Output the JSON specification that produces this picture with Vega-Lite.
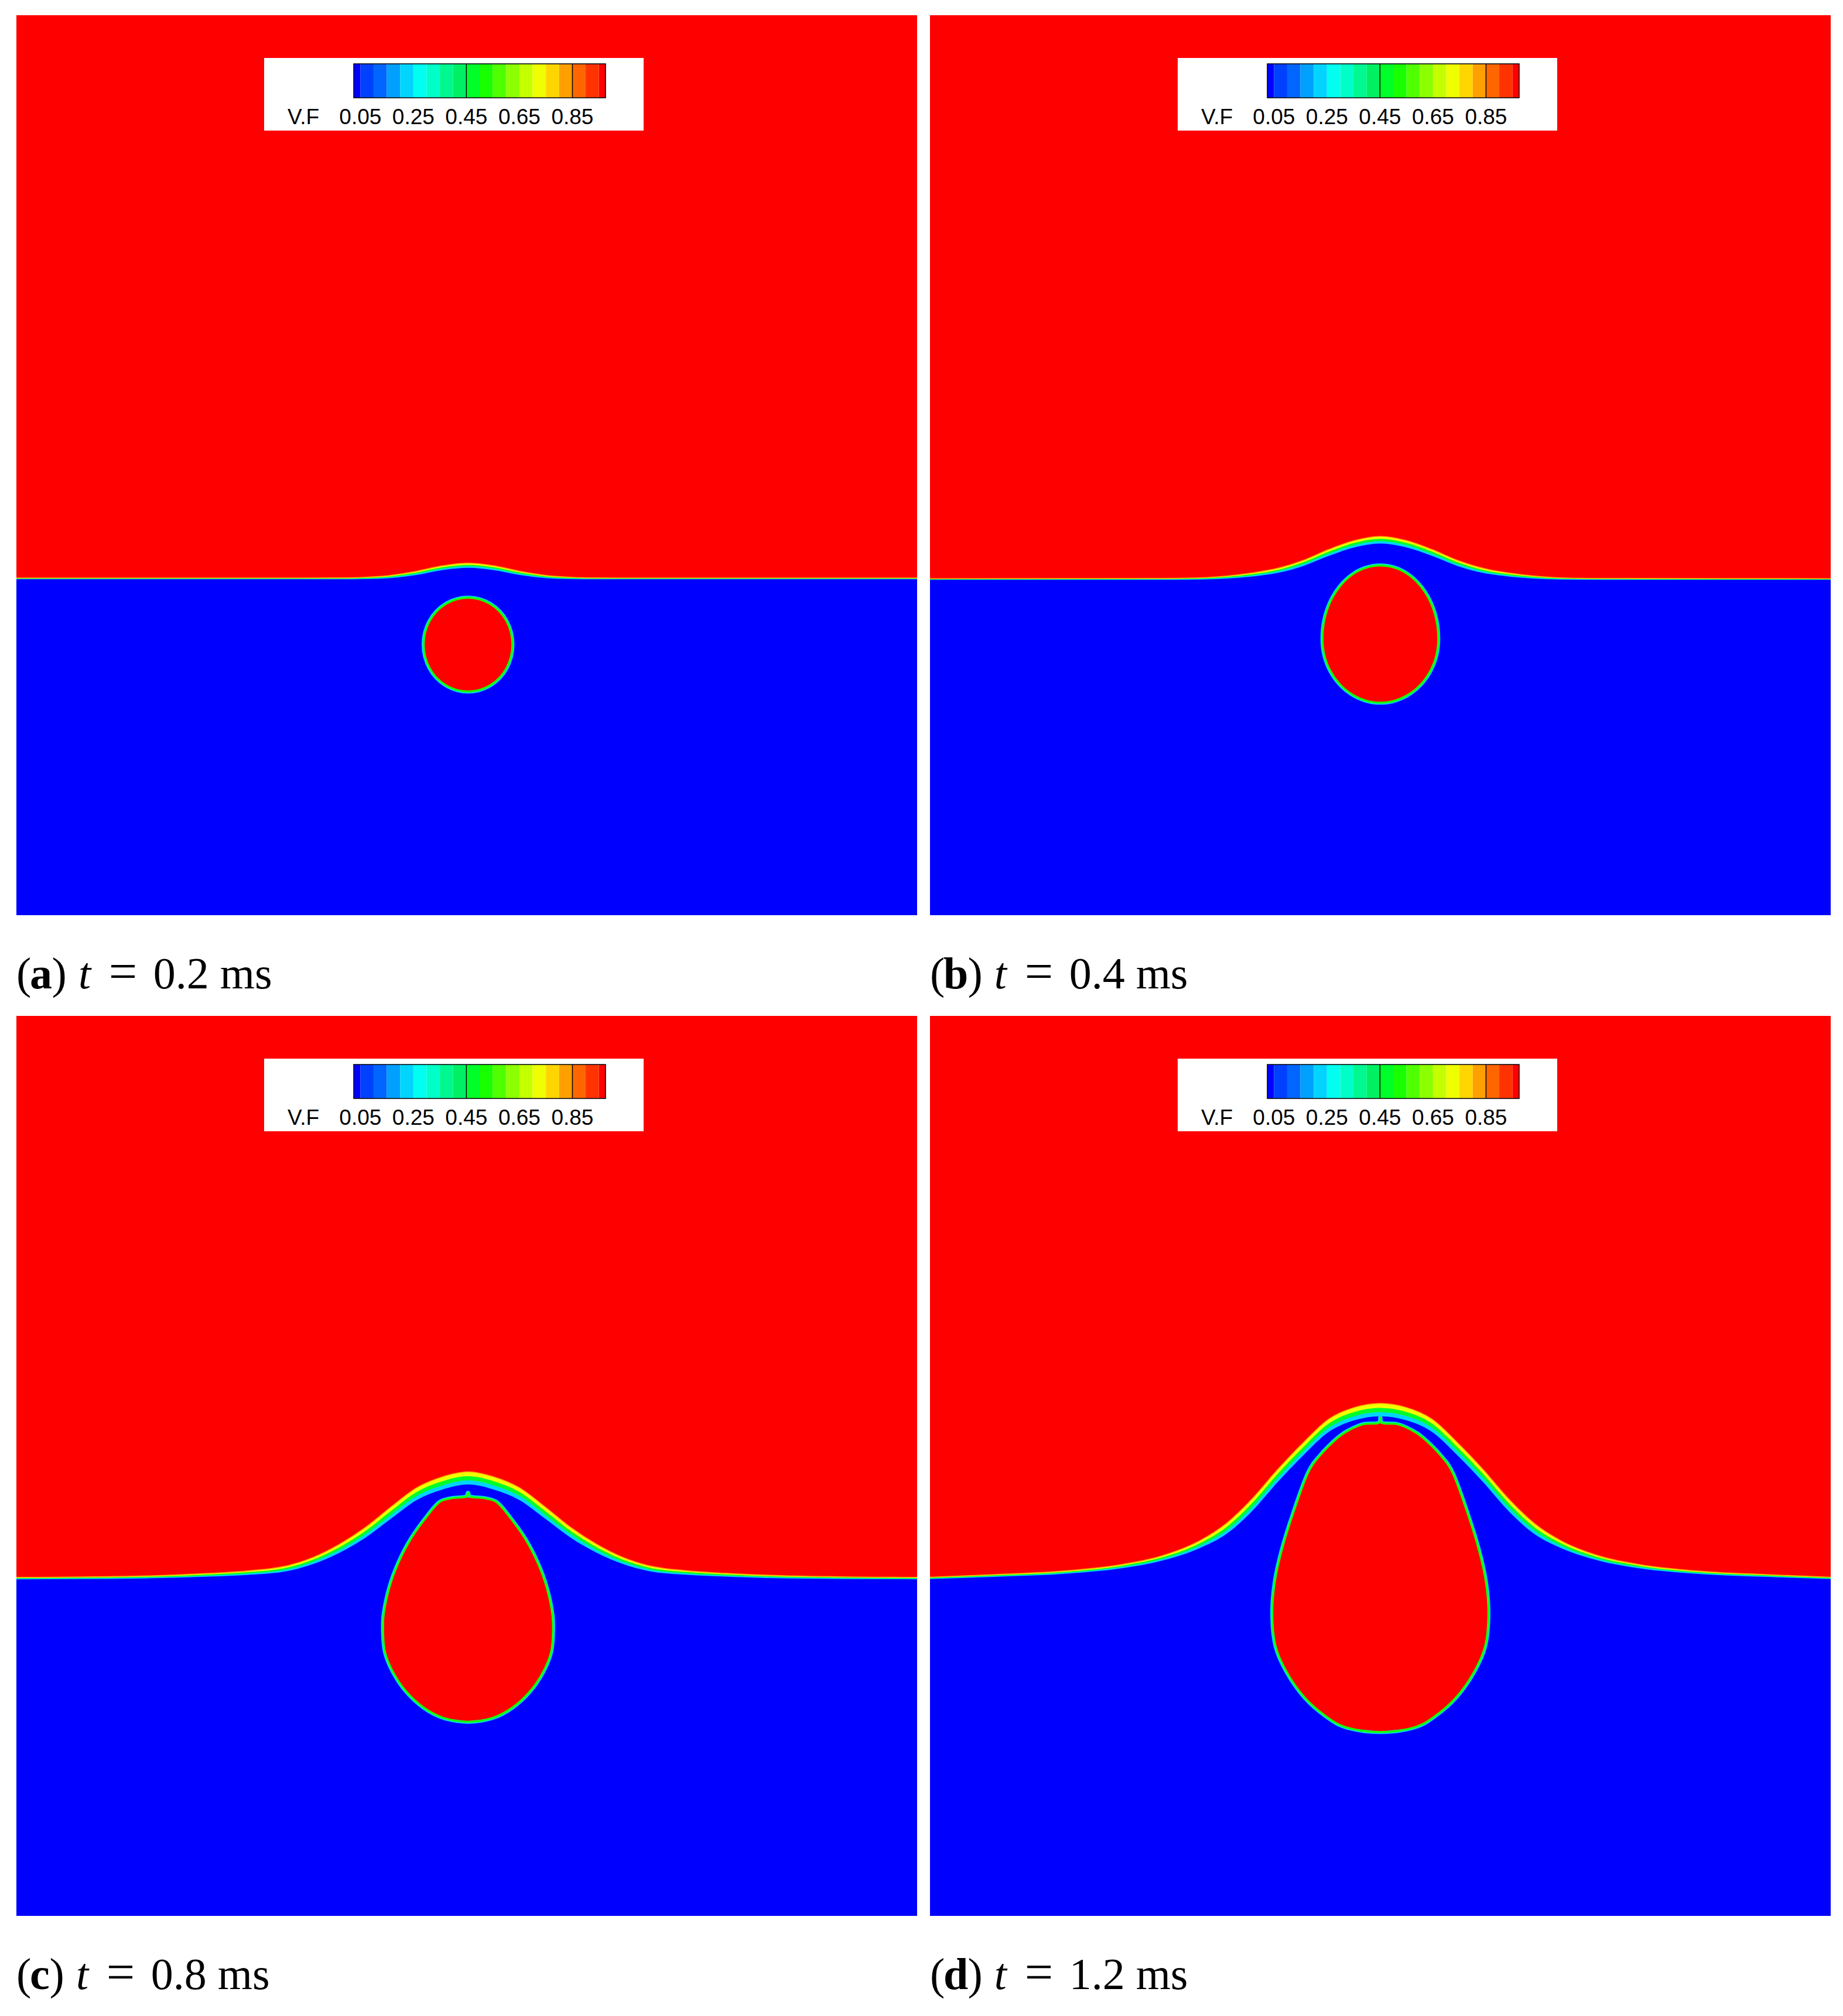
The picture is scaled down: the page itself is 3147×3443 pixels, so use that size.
{
"$schema": "https://vega.github.io/schema/vega-lite/v6.json",
"background": "#FFFFFF",
"padding": {"left": 25, "top": 26, "right": 0, "bottom": 10},
"bounds": "flush",
"columns": 2,
"spacing": {"row": 172, "column": 22},
"config": {"view": {"fill": "#FF0000", "stroke": null}},
"datasets": {
"cbar": [{"lo":0.025,"hi":0.05,"v":0.04},{"lo":0.05,"hi":0.1,"v":0.075},{"lo":0.1,"hi":0.15,"v":0.125},{"lo":0.15,"hi":0.2,"v":0.175},{"lo":0.2,"hi":0.25,"v":0.225},{"lo":0.25,"hi":0.3,"v":0.275},{"lo":0.3,"hi":0.35,"v":0.325},{"lo":0.35,"hi":0.4,"v":0.375},{"lo":0.4,"hi":0.45,"v":0.425},{"lo":0.45,"hi":0.5,"v":0.475},{"lo":0.5,"hi":0.55,"v":0.525},{"lo":0.55,"hi":0.6,"v":0.575},{"lo":0.6,"hi":0.65,"v":0.625},{"lo":0.65,"hi":0.7,"v":0.675},{"lo":0.7,"hi":0.75,"v":0.725},{"lo":0.75,"hi":0.8,"v":0.775},{"lo":0.8,"hi":0.85,"v":0.825},{"lo":0.85,"hi":0.9,"v":0.875},{"lo":0.9,"hi":0.95,"v":0.925},{"lo":0.95,"hi":0.975,"v":0.96}],
"cticks": [{"v":0.05,"label":"0.05"},{"v":0.25,"label":"0.25"},{"v":0.45,"label":"0.45"},{"v":0.65,"label":"0.65"},{"v":0.85,"label":"0.85"}],
"clines": [{"v":0.45},{"v":0.85}],
"surfA": [
{"x":0,"top":262.3,"g":262.0,"c":261.6,"bot":261.3},
{"x":221,"top":262.3,"g":262.0,"c":261.6,"bot":261.3},
{"x":251,"top":262.4,"g":262.0,"c":261.7,"bot":261.3},
{"x":271,"top":262.9,"g":262.4,"c":261.9,"bot":261.4},
{"x":291,"top":264.4,"g":263.6,"c":262.9,"bot":262.2},
{"x":311,"top":267.6,"g":266.5,"c":265.6,"bot":264.6},
{"x":331,"top":271.8,"g":270.6,"c":269.5,"bot":268.4},
{"x":351,"top":273.8,"g":272.5,"c":271.4,"bot":270.2},
{"x":371,"top":271.8,"g":270.6,"c":269.5,"bot":268.4},
{"x":391,"top":267.6,"g":266.5,"c":265.6,"bot":264.6},
{"x":411,"top":264.4,"g":263.6,"c":262.9,"bot":262.2},
{"x":431,"top":262.9,"g":262.4,"c":261.9,"bot":261.4},
{"x":451,"top":262.4,"g":262.0,"c":261.7,"bot":261.3},
{"x":481,"top":262.3,"g":262.0,"c":261.6,"bot":261.3},
{"x":700,"top":262.3,"g":262.0,"c":261.6,"bot":261.3}
],
"surfB": [
{"x":0,"top":261.8,"g":261.5,"c":261.1,"bot":260.8},
{"x":180,"top":262.0,"g":261.6,"c":261.3,"bot":260.9},
{"x":210,"top":262.5,"g":262.0,"c":261.6,"bot":261.1},
{"x":230,"top":263.8,"g":263.1,"c":262.4,"bot":261.8},
{"x":250,"top":266.2,"g":265.2,"c":264.3,"bot":263.4},
{"x":270,"top":269.8,"g":268.5,"c":267.4,"bot":266.2},
{"x":290,"top":276.0,"g":274.5,"c":273.0,"bot":271.6},
{"x":310,"top":284.5,"g":282.8,"c":281.1,"bot":279.5},
{"x":330,"top":291.5,"g":289.6,"c":287.8,"bot":286.1},
{"x":350,"top":294.7,"g":292.7,"c":290.9,"bot":289.1},
{"x":370,"top":291.5,"g":289.6,"c":287.8,"bot":286.1},
{"x":390,"top":284.5,"g":282.8,"c":281.1,"bot":279.5},
{"x":410,"top":276.0,"g":274.5,"c":273.0,"bot":271.6},
{"x":430,"top":269.8,"g":268.5,"c":267.4,"bot":266.2},
{"x":450,"top":266.2,"g":265.2,"c":264.3,"bot":263.4},
{"x":470,"top":263.8,"g":263.1,"c":262.4,"bot":261.8},
{"x":490,"top":262.5,"g":262.0,"c":261.6,"bot":261.1},
{"x":520,"top":262.0,"g":261.6,"c":261.3,"bot":260.9},
{"x":700,"top":261.8,"g":261.5,"c":261.1,"bot":260.8}
],
"surfC": [
{"x":0,"top":263.3,"g":262.8,"c":262.3,"bot":261.8},
{"x":101,"top":264.5,"g":263.8,"c":263.1,"bot":262.5},
{"x":151,"top":266.5,"g":265.6,"c":264.7,"bot":263.9},
{"x":181,"top":268.5,"g":267.4,"c":266.3,"bot":265.3},
{"x":211,"top":272.5,"g":271.0,"c":269.6,"bot":268.3},
{"x":231,"top":279.0,"g":277.2,"c":275.5,"bot":273.8},
{"x":251,"top":289.0,"g":286.7,"c":284.5,"bot":282.4},
{"x":271,"top":302.0,"g":299.2,"c":296.6,"bot":294.0},
{"x":291,"top":318.0,"g":314.8,"c":311.8,"bot":308.9},
{"x":311,"top":333.0,"g":329.6,"c":326.5,"bot":323.4},
{"x":331,"top":341.5,"g":338.0,"c":334.8,"bot":331.6},
{"x":351,"top":345.5,"g":342.0,"c":338.7,"bot":335.5},
{"x":371,"top":341.5,"g":338.0,"c":334.8,"bot":331.6},
{"x":391,"top":333.0,"g":329.6,"c":326.5,"bot":323.4},
{"x":411,"top":318.0,"g":314.8,"c":311.8,"bot":308.9},
{"x":431,"top":302.0,"g":299.2,"c":296.6,"bot":294.0},
{"x":451,"top":289.0,"g":286.7,"c":284.5,"bot":282.4},
{"x":471,"top":279.0,"g":277.2,"c":275.5,"bot":273.8},
{"x":491,"top":272.5,"g":271.0,"c":269.6,"bot":268.3},
{"x":521,"top":268.5,"g":267.4,"c":266.3,"bot":265.3},
{"x":551,"top":266.5,"g":265.6,"c":264.7,"bot":263.9},
{"x":601,"top":264.5,"g":263.8,"c":263.1,"bot":262.5},
{"x":700,"top":263.3,"g":262.8,"c":262.3,"bot":261.8}
],
"surfD": [
{"x":0,"top":263.5,"g":263.0,"c":262.5,"bot":262.0},
{"x":50,"top":265.5,"g":264.9,"c":264.3,"bot":263.7},
{"x":100,"top":268.0,"g":267.2,"c":266.5,"bot":265.8},
{"x":150,"top":273.5,"g":272.5,"c":271.5,"bot":270.5},
{"x":180,"top":280.0,"g":278.7,"c":277.4,"bot":276.2},
{"x":210,"top":292.0,"g":290.0,"c":288.1,"bot":286.2},
{"x":230,"top":305.0,"g":302.1,"c":299.4,"bot":296.8},
{"x":250,"top":324.0,"g":320.7,"c":317.5,"bot":314.5},
{"x":270,"top":347.0,"g":343.6,"c":340.3,"bot":337.2},
{"x":290,"top":368.0,"g":364.5,"c":361.3,"bot":358.1},
{"x":310,"top":386.5,"g":383.0,"c":379.7,"bot":376.5},
{"x":330,"top":395.5,"g":392.0,"c":388.7,"bot":385.5},
{"x":350,"top":398.6,"g":395.1,"c":391.8,"bot":388.6},
{"x":370,"top":395.5,"g":392.0,"c":388.7,"bot":385.5},
{"x":390,"top":386.5,"g":383.0,"c":379.7,"bot":376.5},
{"x":410,"top":368.0,"g":364.5,"c":361.3,"bot":358.1},
{"x":430,"top":347.0,"g":343.6,"c":340.3,"bot":337.2},
{"x":450,"top":324.0,"g":320.7,"c":317.5,"bot":314.5},
{"x":470,"top":305.0,"g":302.1,"c":299.4,"bot":296.8},
{"x":490,"top":292.0,"g":290.0,"c":288.1,"bot":286.2},
{"x":520,"top":280.0,"g":278.7,"c":277.4,"bot":276.2},
{"x":550,"top":273.5,"g":272.5,"c":271.5,"bot":270.5},
{"x":600,"top":268.0,"g":267.2,"c":266.5,"bot":265.8},
{"x":650,"top":265.5,"g":264.9,"c":264.3,"bot":263.7},
{"x":700,"top":263.5,"g":263.0,"c":262.5,"bot":262.0}
],
"bubA": [
{"i":0,"x":351,"y":247},{"i":1,"x":368.3,"y":242.1},{"i":2,"x":380.9,"y":228.8},{"i":3,"x":385.5,"y":210.5},{"i":4,"x":380.9,"y":192.2},{"i":5,"x":368.3,"y":178.9},{"i":6,"x":351,"y":174},{"i":7,"x":333.7,"y":178.9},{"i":8,"x":321.1,"y":192.2},{"i":9,"x":316.5,"y":210.5},{"i":10,"x":321.1,"y":228.8},{"i":11,"x":333.7,"y":242.1}
],
"bfA": [
{"y":246.5,"xl":351,"xr":351},{"y":246,"xl":343.5,"xr":358.5},{"y":244,"xl":337.8,"xr":364.2},{"y":240,"xl":331.2,"xr":370.8},{"y":234,"xl":325.1,"xr":376.9},{"y":226,"xl":320.3,"xr":381.7},{"y":218,"xl":317.7,"xr":384.3},{"y":210.5,"xl":317,"xr":385},{"y":203,"xl":317.7,"xr":384.3},{"y":195,"xl":320.3,"xr":381.7},{"y":187,"xl":325.1,"xr":376.9},{"y":181,"xl":331.2,"xr":370.8},{"y":177,"xl":337.8,"xr":364.2},{"y":175,"xl":343.5,"xr":358.5},{"y":174.5,"xl":351,"xr":351}
],
"bubB": [
{"i":0,"x":350,"y":272},{"i":1,"x":361.6,"y":270.1},{"i":2,"x":372.5,"y":264.4},{"i":3,"x":381.8,"y":255.3},{"i":4,"x":389,"y":243.5},{"i":5,"x":393.5,"y":229.8},{"i":6,"x":395,"y":215},{"i":7,"x":393.5,"y":202.1},{"i":8,"x":389,"y":190.2},{"i":9,"x":381.8,"y":179.9},{"i":10,"x":372.5,"y":172},{"i":11,"x":361.6,"y":167},{"i":12,"x":350,"y":165.3},{"i":13,"x":338.4,"y":167},{"i":14,"x":327.5,"y":172},{"i":15,"x":318.2,"y":179.9},{"i":16,"x":311,"y":190.2},{"i":17,"x":306.5,"y":202.1},{"i":18,"x":305,"y":215},{"i":19,"x":306.5,"y":229.8},{"i":20,"x":311,"y":243.5},{"i":21,"x":318.2,"y":255.3},{"i":22,"x":327.5,"y":264.4},{"i":23,"x":338.4,"y":270.1}
],
"bfB": [
{"y":271.5,"xl":350,"xr":350},{"y":270.5,"xl":340.2,"xr":359.8},{"y":268,"xl":333.9,"xr":366.1},{"y":264,"xl":327.5,"xr":372.5},{"y":256,"xl":319.2,"xr":380.8},{"y":245,"xl":312.2,"xr":387.8},{"y":230,"xl":307.1,"xr":392.9},{"y":215,"xl":305.5,"xr":394.5},{"y":202,"xl":307.1,"xr":392.9},{"y":190,"xl":311.6,"xr":388.4},{"y":180,"xl":318.6,"xr":381.4},{"y":172,"xl":327.9,"xr":372.1},{"y":168,"xl":335.9,"xr":364.1},{"y":166,"xl":343,"xr":357},{"y":165.8,"xl":350,"xr":350}
],
"bubC": [
{"i":0,"x":349,"y":325.9},{"i":1,"x":351,"y":329},{"i":2,"x":353,"y":325.9},{"i":3,"x":363,"y":325},{"i":4,"x":373,"y":322},{"i":5,"x":382,"y":312},{"i":6,"x":395,"y":294},{"i":7,"x":405,"y":275},{"i":8,"x":412,"y":256},{"i":9,"x":416.5,"y":235},{"i":10,"x":417,"y":220},{"i":11,"x":415.5,"y":205},{"i":12,"x":409.5,"y":190},{"i":13,"x":399.5,"y":175},{"i":14,"x":385.5,"y":162},{"i":15,"x":370,"y":154},{"i":16,"x":351,"y":151},{"i":17,"x":332,"y":154},{"i":18,"x":316.5,"y":162},{"i":19,"x":302.5,"y":175},{"i":20,"x":292.5,"y":190},{"i":21,"x":286.5,"y":205},{"i":22,"x":285,"y":220},{"i":23,"x":285.5,"y":235},{"i":24,"x":290,"y":256},{"i":25,"x":297,"y":275},{"i":26,"x":307,"y":294},{"i":27,"x":320,"y":312},{"i":28,"x":329,"y":322},{"i":29,"x":339,"y":325}
],
"bfC": [
{"y":325.3,"xl":351,"xr":351},{"y":325,"xl":339.5,"xr":362.5},{"y":322,"xl":329.5,"xr":372.5},{"y":318,"xl":325,"xr":377},{"y":312,"xl":320.5,"xr":381.5},{"y":303,"xl":313.5,"xr":388.5},{"y":294,"xl":307.5,"xr":394.5},{"y":275,"xl":297.5,"xr":404.5},{"y":256,"xl":290.5,"xr":411.5},{"y":235,"xl":286,"xr":416},{"y":220,"xl":285.5,"xr":416.5},{"y":205,"xl":287,"xr":415},{"y":190,"xl":293,"xr":409},{"y":175,"xl":303,"xr":399},{"y":162,"xl":317,"xr":385},{"y":154,"xl":332.5,"xr":369.5},{"y":151.5,"xl":351,"xr":351}
],
"bubD": [
{"i":0,"x":348.5,"y":383.3},{"i":1,"x":350,"y":387.5},{"i":2,"x":351.5,"y":383.3},{"i":3,"x":363,"y":382.5},{"i":4,"x":374,"y":378},{"i":5,"x":383,"y":372},{"i":6,"x":397,"y":358},{"i":7,"x":406.5,"y":344},{"i":8,"x":417.5,"y":314},{"i":9,"x":426.5,"y":285},{"i":10,"x":432,"y":260},{"i":11,"x":434,"y":235},{"i":12,"x":431.5,"y":210},{"i":13,"x":423,"y":190},{"i":14,"x":409,"y":170},{"i":15,"x":392,"y":155},{"i":16,"x":376,"y":146.5},{"i":17,"x":350,"y":143},{"i":18,"x":324,"y":146.5},{"i":19,"x":308,"y":155},{"i":20,"x":291,"y":170},{"i":21,"x":277,"y":190},{"i":22,"x":268.5,"y":210},{"i":23,"x":266,"y":235},{"i":24,"x":268,"y":260},{"i":25,"x":273.5,"y":285},{"i":26,"x":282.5,"y":314},{"i":27,"x":293.5,"y":344},{"i":28,"x":303,"y":358},{"i":29,"x":317,"y":372},{"i":30,"x":326,"y":378},{"i":31,"x":337,"y":382.5}
],
"bfD": [
{"y":383,"xl":350,"xr":350},{"y":382.5,"xl":337.5,"xr":362.5},{"y":378,"xl":326.5,"xr":373.5},{"y":372,"xl":317.5,"xr":382.5},{"y":358,"xl":303.5,"xr":396.5},{"y":344,"xl":294,"xr":406},{"y":329,"xl":288,"xr":412},{"y":314,"xl":283,"xr":417},{"y":285,"xl":274,"xr":426},{"y":260,"xl":268.5,"xr":431.5},{"y":235,"xl":266.5,"xr":433.5},{"y":210,"xl":269,"xr":431},{"y":190,"xl":277.5,"xr":422.5},{"y":170,"xl":291.5,"xr":408.5},{"y":155,"xl":308.5,"xr":391.5},{"y":146.5,"xl":324.5,"xr":375.5},{"y":143.5,"xl":350,"xr":350}
]
},
"concat": [
{"width":1538,"height":1537,"resolve":{"scale":{"x":"independent","y":"independent"}},"layer":[
{"data":{"name":"surfA"},"mark":{"type":"area","interpolate":"monotone"},"encoding":{"x":{"field":"x","type":"quantitative","scale":{"domain":[0,700],"nice":false,"zero":false},"axis":null},"y":{"field":"top","type":"quantitative","scale":{"domain":[0,700],"nice":false,"zero":false},"axis":null},"y2":{"datum":0},"color":{"datum":0.72,"type":"quantitative","legend":null,"scale":{"type":"threshold","domain":[0.05,0.1,0.15,0.2,0.25,0.3,0.35,0.4,0.45,0.5,0.55,0.6,0.65,0.7,0.75,0.8,0.85,0.9,0.95],"range":["#0000FF","#0040FF","#0066FF","#00A0FF","#00D4FF","#00FFF0","#00FFC8","#00F890","#00F064","#00FF28","#18FF00","#50FF00","#8CFF00","#C4FF00","#F0FF00","#FFD500","#FFA000","#FF6600","#FF3300","#FF0000"]}}}},
{"data":{"name":"surfA"},"mark":{"type":"area","interpolate":"monotone"},"encoding":{"x":{"field":"x","type":"quantitative","scale":{"domain":[0,700],"nice":false,"zero":false},"axis":null},"y":{"field":"g","type":"quantitative","scale":{"domain":[0,700],"nice":false,"zero":false},"axis":null},"y2":{"datum":0},"color":{"datum":0.47,"type":"quantitative","legend":null,"scale":{"type":"threshold","domain":[0.05,0.1,0.15,0.2,0.25,0.3,0.35,0.4,0.45,0.5,0.55,0.6,0.65,0.7,0.75,0.8,0.85,0.9,0.95],"range":["#0000FF","#0040FF","#0066FF","#00A0FF","#00D4FF","#00FFF0","#00FFC8","#00F890","#00F064","#00FF28","#18FF00","#50FF00","#8CFF00","#C4FF00","#F0FF00","#FFD500","#FFA000","#FF6600","#FF3300","#FF0000"]}}}},
{"data":{"name":"surfA"},"mark":{"type":"area","interpolate":"monotone"},"encoding":{"x":{"field":"x","type":"quantitative","scale":{"domain":[0,700],"nice":false,"zero":false},"axis":null},"y":{"field":"c","type":"quantitative","scale":{"domain":[0,700],"nice":false,"zero":false},"axis":null},"y2":{"datum":0},"color":{"datum":0.22,"type":"quantitative","legend":null,"scale":{"type":"threshold","domain":[0.05,0.1,0.15,0.2,0.25,0.3,0.35,0.4,0.45,0.5,0.55,0.6,0.65,0.7,0.75,0.8,0.85,0.9,0.95],"range":["#0000FF","#0040FF","#0066FF","#00A0FF","#00D4FF","#00FFF0","#00FFC8","#00F890","#00F064","#00FF28","#18FF00","#50FF00","#8CFF00","#C4FF00","#F0FF00","#FFD500","#FFA000","#FF6600","#FF3300","#FF0000"]}}}},
{"data":{"name":"surfA"},"mark":{"type":"area","interpolate":"monotone"},"encoding":{"x":{"field":"x","type":"quantitative","scale":{"domain":[0,700],"nice":false,"zero":false},"axis":null},"y":{"field":"bot","type":"quantitative","scale":{"domain":[0,700],"nice":false,"zero":false},"axis":null},"y2":{"datum":0},"color":{"datum":0,"type":"quantitative","legend":null,"scale":{"type":"threshold","domain":[0.05,0.1,0.15,0.2,0.25,0.3,0.35,0.4,0.45,0.5,0.55,0.6,0.65,0.7,0.75,0.8,0.85,0.9,0.95],"range":["#0000FF","#0040FF","#0066FF","#00A0FF","#00D4FF","#00FFF0","#00FFC8","#00F890","#00F064","#00FF28","#18FF00","#50FF00","#8CFF00","#C4FF00","#F0FF00","#FFD500","#FFA000","#FF6600","#FF3300","#FF0000"]}}}},
{"data":{"name":"surfA"},"mark":{"type":"line","interpolate":"monotone","strokeWidth":1.5},"encoding":{"x":{"field":"x","type":"quantitative","scale":{"domain":[0,700],"nice":false,"zero":false},"axis":null},"y":{"field":"top","type":"quantitative","scale":{"domain":[0,700],"nice":false,"zero":false},"axis":null},"color":{"datum":0.82,"type":"quantitative","legend":null,"scale":{"type":"threshold","domain":[0.05,0.1,0.15,0.2,0.25,0.3,0.35,0.4,0.45,0.5,0.55,0.6,0.65,0.7,0.75,0.8,0.85,0.9,0.95],"range":["#0000FF","#0040FF","#0066FF","#00A0FF","#00D4FF","#00FFF0","#00FFC8","#00F890","#00F064","#00FF28","#18FF00","#50FF00","#8CFF00","#C4FF00","#F0FF00","#FFD500","#FFA000","#FF6600","#FF3300","#FF0000"]}}}},
{"data":{"name":"bubA"},"mark":{"type":"line","interpolate":"cardinal-closed","strokeWidth":7},"encoding":{"x":{"field":"x","type":"quantitative","scale":{"domain":[0,700],"nice":false,"zero":false},"axis":null},"y":{"field":"y","type":"quantitative","scale":{"domain":[0,700],"nice":false,"zero":false},"axis":null},"order":{"field":"i"},"color":{"datum":0.22,"type":"quantitative","legend":null,"scale":{"type":"threshold","domain":[0.05,0.1,0.15,0.2,0.25,0.3,0.35,0.4,0.45,0.5,0.55,0.6,0.65,0.7,0.75,0.8,0.85,0.9,0.95],"range":["#0000FF","#0040FF","#0066FF","#00A0FF","#00D4FF","#00FFF0","#00FFC8","#00F890","#00F064","#00FF28","#18FF00","#50FF00","#8CFF00","#C4FF00","#F0FF00","#FFD500","#FFA000","#FF6600","#FF3300","#FF0000"]}}}},
{"data":{"name":"bfA"},"mark":{"type":"area","orient":"horizontal","interpolate":"monotone"},"encoding":{"y":{"field":"y","type":"quantitative","scale":{"domain":[0,700],"nice":false,"zero":false},"axis":null},"x":{"field":"xl","type":"quantitative","scale":{"domain":[0,700],"nice":false,"zero":false},"axis":null},"x2":{"field":"xr"},"color":{"datum":1,"type":"quantitative","legend":null,"scale":{"type":"threshold","domain":[0.05,0.1,0.15,0.2,0.25,0.3,0.35,0.4,0.45,0.5,0.55,0.6,0.65,0.7,0.75,0.8,0.85,0.9,0.95],"range":["#0000FF","#0040FF","#0066FF","#00A0FF","#00D4FF","#00FFF0","#00FFC8","#00F890","#00F064","#00FF28","#18FF00","#50FF00","#8CFF00","#C4FF00","#F0FF00","#FFD500","#FFA000","#FF6600","#FF3300","#FF0000"]}}}},
{"data":{"name":"bubA"},"mark":{"type":"line","interpolate":"cardinal-closed","strokeWidth":3.5},"encoding":{"x":{"field":"x","type":"quantitative","scale":{"domain":[0,700],"nice":false,"zero":false},"axis":null},"y":{"field":"y","type":"quantitative","scale":{"domain":[0,700],"nice":false,"zero":false},"axis":null},"order":{"field":"i"},"color":{"datum":0.52,"type":"quantitative","legend":null,"scale":{"type":"threshold","domain":[0.05,0.1,0.15,0.2,0.25,0.3,0.35,0.4,0.45,0.5,0.55,0.6,0.65,0.7,0.75,0.8,0.85,0.9,0.95],"range":["#0000FF","#0040FF","#0066FF","#00A0FF","#00D4FF","#00FFF0","#00FFC8","#00F890","#00F064","#00FF28","#18FF00","#50FF00","#8CFF00","#C4FF00","#F0FF00","#FFD500","#FFA000","#FF6600","#FF3300","#FF0000"]}}}},
{"data":{"values":[{}]},"mark":{"type":"rect","fill":"#FFFFFF"},"encoding":{"x":{"datum":-0.31303,"type":"quantitative","scale":{"domain":[-1.24757,2.15035],"nice":false,"zero":false},"axis":null},"x2":{"datum":1.1186},"y":{"datum":1.1724,"type":"quantitative","scale":{"domain":[-24.069,2.431],"nice":false,"zero":false},"axis":null},"y2":{"datum":-0.9656}}},
{"data":{"name":"cbar"},"mark":{"type":"rect"},"encoding":{"x":{"field":"lo","type":"quantitative","scale":{"domain":[-1.24757,2.15035],"nice":false,"zero":false},"axis":null},"x2":{"field":"hi"},"y":{"datum":0,"type":"quantitative","scale":{"domain":[-24.069,2.431],"nice":false,"zero":false},"axis":null},"y2":{"datum":1},"color":{"field":"v","type":"quantitative","legend":null,"scale":{"type":"threshold","domain":[0.05,0.1,0.15,0.2,0.25,0.3,0.35,0.4,0.45,0.5,0.55,0.6,0.65,0.7,0.75,0.8,0.85,0.9,0.95],"range":["#0000FF","#0040FF","#0066FF","#00A0FF","#00D4FF","#00FFF0","#00FFC8","#00F890","#00F064","#00FF28","#18FF00","#50FF00","#8CFF00","#C4FF00","#F0FF00","#FFD500","#FFA000","#FF6600","#FF3300","#FF0000"]}}}},
{"data":{"name":"clines"},"mark":{"type":"rule","stroke":"#000000","strokeWidth":1.5},"encoding":{"x":{"field":"v","type":"quantitative","scale":{"domain":[-1.24757,2.15035],"nice":false,"zero":false},"axis":null},"y":{"datum":0,"type":"quantitative","scale":{"domain":[-24.069,2.431],"nice":false,"zero":false},"axis":null},"y2":{"datum":1}}},
{"data":{"values":[{}]},"mark":{"type":"rect","filled":false,"stroke":"#000000","strokeWidth":1.5},"encoding":{"x":{"datum":0.025,"type":"quantitative","scale":{"domain":[-1.24757,2.15035],"nice":false,"zero":false},"axis":null},"x2":{"datum":0.975},"y":{"datum":0,"type":"quantitative","scale":{"domain":[-24.069,2.431],"nice":false,"zero":false},"axis":null},"y2":{"datum":1}}},
{"data":{"name":"cticks"},"mark":{"type":"text","font":"Liberation Sans","fontSize":37,"align":"center","baseline":"alphabetic","fill":"#000000"},"encoding":{"x":{"field":"v","type":"quantitative","scale":{"domain":[-1.24757,2.15035],"nice":false,"zero":false},"axis":null},"y":{"datum":-0.776,"type":"quantitative","scale":{"domain":[-24.069,2.431],"nice":false,"zero":false},"axis":null},"text":{"field":"label"}}},
{"data":{"values":[{}]},"mark":{"type":"text","text":"V.F","font":"Liberation Sans","fontSize":37,"align":"left","baseline":"alphabetic","fill":"#000000"},"encoding":{"x":{"datum":-0.22466,"type":"quantitative","scale":{"domain":[-1.24757,2.15035],"nice":false,"zero":false},"axis":null},"y":{"datum":-0.776,"type":"quantitative","scale":{"domain":[-24.069,2.431],"nice":false,"zero":false},"axis":null}}},
{"data":{"values":[{}]},"mark":{"type":"text","text":"(","font":"Liberation Serif","fontSize":76,"align":"left","baseline":"alphabetic","fill":"#000000"},"encoding":{"x":{"datum":0,"type":"quantitative","scale":{"domain":[0,700],"nice":false,"zero":false},"axis":null},"y":{"datum":-57,"type":"quantitative","scale":{"domain":[0,700],"nice":false,"zero":false},"axis":null}}},
{"data":{"values":[{}]},"mark":{"type":"text","text":"a","font":"Liberation Serif","fontWeight":"bold","fontSize":76,"align":"left","baseline":"alphabetic","fill":"#000000"},"encoding":{"x":{"datum":10.5,"type":"quantitative","scale":{"domain":[0,700],"nice":false,"zero":false},"axis":null},"y":{"datum":-57,"type":"quantitative","scale":{"domain":[0,700],"nice":false,"zero":false},"axis":null}}},
{"data":{"values":[{}]},"mark":{"type":"text","text":")","font":"Liberation Serif","fontSize":76,"align":"left","baseline":"alphabetic","fill":"#000000"},"encoding":{"x":{"datum":27.5,"type":"quantitative","scale":{"domain":[0,700],"nice":false,"zero":false},"axis":null},"y":{"datum":-57,"type":"quantitative","scale":{"domain":[0,700],"nice":false,"zero":false},"axis":null}}},
{"data":{"values":[{}]},"mark":{"type":"text","text":"t","font":"Liberation Serif","fontStyle":"italic","fontSize":76,"align":"left","baseline":"alphabetic","fill":"#000000"},"encoding":{"x":{"datum":48.2,"type":"quantitative","scale":{"domain":[0,700],"nice":false,"zero":false},"axis":null},"y":{"datum":-57,"type":"quantitative","scale":{"domain":[0,700],"nice":false,"zero":false},"axis":null}}},
{"data":{"values":[{}]},"mark":{"type":"text","text":"=","font":"Liberation Serif","fontSize":86,"align":"center","baseline":"alphabetic","fill":"#000000"},"encoding":{"x":{"datum":82.8,"type":"quantitative","scale":{"domain":[0,700],"nice":false,"zero":false},"axis":null},"y":{"datum":-57,"type":"quantitative","scale":{"domain":[0,700],"nice":false,"zero":false},"axis":null}}},
{"data":{"values":[{}]},"mark":{"type":"text","text":"0.2 ms","font":"Liberation Serif","fontSize":76,"align":"left","baseline":"alphabetic","fill":"#000000"},"encoding":{"x":{"datum":106.4,"type":"quantitative","scale":{"domain":[0,700],"nice":false,"zero":false},"axis":null},"y":{"datum":-57,"type":"quantitative","scale":{"domain":[0,700],"nice":false,"zero":false},"axis":null}}}
]},
{"width":1538,"height":1537,"resolve":{"scale":{"x":"independent","y":"independent"}},"layer":[
{"data":{"name":"surfB"},"mark":{"type":"area","interpolate":"monotone"},"encoding":{"x":{"field":"x","type":"quantitative","scale":{"domain":[0,700],"nice":false,"zero":false},"axis":null},"y":{"field":"top","type":"quantitative","scale":{"domain":[0,700],"nice":false,"zero":false},"axis":null},"y2":{"datum":0},"color":{"datum":0.72,"type":"quantitative","legend":null,"scale":{"type":"threshold","domain":[0.05,0.1,0.15,0.2,0.25,0.3,0.35,0.4,0.45,0.5,0.55,0.6,0.65,0.7,0.75,0.8,0.85,0.9,0.95],"range":["#0000FF","#0040FF","#0066FF","#00A0FF","#00D4FF","#00FFF0","#00FFC8","#00F890","#00F064","#00FF28","#18FF00","#50FF00","#8CFF00","#C4FF00","#F0FF00","#FFD500","#FFA000","#FF6600","#FF3300","#FF0000"]}}}},
{"data":{"name":"surfB"},"mark":{"type":"area","interpolate":"monotone"},"encoding":{"x":{"field":"x","type":"quantitative","scale":{"domain":[0,700],"nice":false,"zero":false},"axis":null},"y":{"field":"g","type":"quantitative","scale":{"domain":[0,700],"nice":false,"zero":false},"axis":null},"y2":{"datum":0},"color":{"datum":0.47,"type":"quantitative","legend":null,"scale":{"type":"threshold","domain":[0.05,0.1,0.15,0.2,0.25,0.3,0.35,0.4,0.45,0.5,0.55,0.6,0.65,0.7,0.75,0.8,0.85,0.9,0.95],"range":["#0000FF","#0040FF","#0066FF","#00A0FF","#00D4FF","#00FFF0","#00FFC8","#00F890","#00F064","#00FF28","#18FF00","#50FF00","#8CFF00","#C4FF00","#F0FF00","#FFD500","#FFA000","#FF6600","#FF3300","#FF0000"]}}}},
{"data":{"name":"surfB"},"mark":{"type":"area","interpolate":"monotone"},"encoding":{"x":{"field":"x","type":"quantitative","scale":{"domain":[0,700],"nice":false,"zero":false},"axis":null},"y":{"field":"c","type":"quantitative","scale":{"domain":[0,700],"nice":false,"zero":false},"axis":null},"y2":{"datum":0},"color":{"datum":0.22,"type":"quantitative","legend":null,"scale":{"type":"threshold","domain":[0.05,0.1,0.15,0.2,0.25,0.3,0.35,0.4,0.45,0.5,0.55,0.6,0.65,0.7,0.75,0.8,0.85,0.9,0.95],"range":["#0000FF","#0040FF","#0066FF","#00A0FF","#00D4FF","#00FFF0","#00FFC8","#00F890","#00F064","#00FF28","#18FF00","#50FF00","#8CFF00","#C4FF00","#F0FF00","#FFD500","#FFA000","#FF6600","#FF3300","#FF0000"]}}}},
{"data":{"name":"surfB"},"mark":{"type":"area","interpolate":"monotone"},"encoding":{"x":{"field":"x","type":"quantitative","scale":{"domain":[0,700],"nice":false,"zero":false},"axis":null},"y":{"field":"bot","type":"quantitative","scale":{"domain":[0,700],"nice":false,"zero":false},"axis":null},"y2":{"datum":0},"color":{"datum":0,"type":"quantitative","legend":null,"scale":{"type":"threshold","domain":[0.05,0.1,0.15,0.2,0.25,0.3,0.35,0.4,0.45,0.5,0.55,0.6,0.65,0.7,0.75,0.8,0.85,0.9,0.95],"range":["#0000FF","#0040FF","#0066FF","#00A0FF","#00D4FF","#00FFF0","#00FFC8","#00F890","#00F064","#00FF28","#18FF00","#50FF00","#8CFF00","#C4FF00","#F0FF00","#FFD500","#FFA000","#FF6600","#FF3300","#FF0000"]}}}},
{"data":{"name":"surfB"},"mark":{"type":"line","interpolate":"monotone","strokeWidth":1.5},"encoding":{"x":{"field":"x","type":"quantitative","scale":{"domain":[0,700],"nice":false,"zero":false},"axis":null},"y":{"field":"top","type":"quantitative","scale":{"domain":[0,700],"nice":false,"zero":false},"axis":null},"color":{"datum":0.82,"type":"quantitative","legend":null,"scale":{"type":"threshold","domain":[0.05,0.1,0.15,0.2,0.25,0.3,0.35,0.4,0.45,0.5,0.55,0.6,0.65,0.7,0.75,0.8,0.85,0.9,0.95],"range":["#0000FF","#0040FF","#0066FF","#00A0FF","#00D4FF","#00FFF0","#00FFC8","#00F890","#00F064","#00FF28","#18FF00","#50FF00","#8CFF00","#C4FF00","#F0FF00","#FFD500","#FFA000","#FF6600","#FF3300","#FF0000"]}}}},
{"data":{"name":"bubB"},"mark":{"type":"line","interpolate":"cardinal-closed","strokeWidth":7},"encoding":{"x":{"field":"x","type":"quantitative","scale":{"domain":[0,700],"nice":false,"zero":false},"axis":null},"y":{"field":"y","type":"quantitative","scale":{"domain":[0,700],"nice":false,"zero":false},"axis":null},"order":{"field":"i"},"color":{"datum":0.22,"type":"quantitative","legend":null,"scale":{"type":"threshold","domain":[0.05,0.1,0.15,0.2,0.25,0.3,0.35,0.4,0.45,0.5,0.55,0.6,0.65,0.7,0.75,0.8,0.85,0.9,0.95],"range":["#0000FF","#0040FF","#0066FF","#00A0FF","#00D4FF","#00FFF0","#00FFC8","#00F890","#00F064","#00FF28","#18FF00","#50FF00","#8CFF00","#C4FF00","#F0FF00","#FFD500","#FFA000","#FF6600","#FF3300","#FF0000"]}}}},
{"data":{"name":"bfB"},"mark":{"type":"area","orient":"horizontal","interpolate":"monotone"},"encoding":{"y":{"field":"y","type":"quantitative","scale":{"domain":[0,700],"nice":false,"zero":false},"axis":null},"x":{"field":"xl","type":"quantitative","scale":{"domain":[0,700],"nice":false,"zero":false},"axis":null},"x2":{"field":"xr"},"color":{"datum":1,"type":"quantitative","legend":null,"scale":{"type":"threshold","domain":[0.05,0.1,0.15,0.2,0.25,0.3,0.35,0.4,0.45,0.5,0.55,0.6,0.65,0.7,0.75,0.8,0.85,0.9,0.95],"range":["#0000FF","#0040FF","#0066FF","#00A0FF","#00D4FF","#00FFF0","#00FFC8","#00F890","#00F064","#00FF28","#18FF00","#50FF00","#8CFF00","#C4FF00","#F0FF00","#FFD500","#FFA000","#FF6600","#FF3300","#FF0000"]}}}},
{"data":{"name":"bubB"},"mark":{"type":"line","interpolate":"cardinal-closed","strokeWidth":3.5},"encoding":{"x":{"field":"x","type":"quantitative","scale":{"domain":[0,700],"nice":false,"zero":false},"axis":null},"y":{"field":"y","type":"quantitative","scale":{"domain":[0,700],"nice":false,"zero":false},"axis":null},"order":{"field":"i"},"color":{"datum":0.52,"type":"quantitative","legend":null,"scale":{"type":"threshold","domain":[0.05,0.1,0.15,0.2,0.25,0.3,0.35,0.4,0.45,0.5,0.55,0.6,0.65,0.7,0.75,0.8,0.85,0.9,0.95],"range":["#0000FF","#0040FF","#0066FF","#00A0FF","#00D4FF","#00FFF0","#00FFC8","#00F890","#00F064","#00FF28","#18FF00","#50FF00","#8CFF00","#C4FF00","#F0FF00","#FFD500","#FFA000","#FF6600","#FF3300","#FF0000"]}}}},
{"data":{"values":[{}]},"mark":{"type":"rect","fill":"#FFFFFF"},"encoding":{"x":{"datum":-0.31303,"type":"quantitative","scale":{"domain":[-1.24757,2.15035],"nice":false,"zero":false},"axis":null},"x2":{"datum":1.1186},"y":{"datum":1.1724,"type":"quantitative","scale":{"domain":[-24.069,2.431],"nice":false,"zero":false},"axis":null},"y2":{"datum":-0.9656}}},
{"data":{"name":"cbar"},"mark":{"type":"rect"},"encoding":{"x":{"field":"lo","type":"quantitative","scale":{"domain":[-1.24757,2.15035],"nice":false,"zero":false},"axis":null},"x2":{"field":"hi"},"y":{"datum":0,"type":"quantitative","scale":{"domain":[-24.069,2.431],"nice":false,"zero":false},"axis":null},"y2":{"datum":1},"color":{"field":"v","type":"quantitative","legend":null,"scale":{"type":"threshold","domain":[0.05,0.1,0.15,0.2,0.25,0.3,0.35,0.4,0.45,0.5,0.55,0.6,0.65,0.7,0.75,0.8,0.85,0.9,0.95],"range":["#0000FF","#0040FF","#0066FF","#00A0FF","#00D4FF","#00FFF0","#00FFC8","#00F890","#00F064","#00FF28","#18FF00","#50FF00","#8CFF00","#C4FF00","#F0FF00","#FFD500","#FFA000","#FF6600","#FF3300","#FF0000"]}}}},
{"data":{"name":"clines"},"mark":{"type":"rule","stroke":"#000000","strokeWidth":1.5},"encoding":{"x":{"field":"v","type":"quantitative","scale":{"domain":[-1.24757,2.15035],"nice":false,"zero":false},"axis":null},"y":{"datum":0,"type":"quantitative","scale":{"domain":[-24.069,2.431],"nice":false,"zero":false},"axis":null},"y2":{"datum":1}}},
{"data":{"values":[{}]},"mark":{"type":"rect","filled":false,"stroke":"#000000","strokeWidth":1.5},"encoding":{"x":{"datum":0.025,"type":"quantitative","scale":{"domain":[-1.24757,2.15035],"nice":false,"zero":false},"axis":null},"x2":{"datum":0.975},"y":{"datum":0,"type":"quantitative","scale":{"domain":[-24.069,2.431],"nice":false,"zero":false},"axis":null},"y2":{"datum":1}}},
{"data":{"name":"cticks"},"mark":{"type":"text","font":"Liberation Sans","fontSize":37,"align":"center","baseline":"alphabetic","fill":"#000000"},"encoding":{"x":{"field":"v","type":"quantitative","scale":{"domain":[-1.24757,2.15035],"nice":false,"zero":false},"axis":null},"y":{"datum":-0.776,"type":"quantitative","scale":{"domain":[-24.069,2.431],"nice":false,"zero":false},"axis":null},"text":{"field":"label"}}},
{"data":{"values":[{}]},"mark":{"type":"text","text":"V.F","font":"Liberation Sans","fontSize":37,"align":"left","baseline":"alphabetic","fill":"#000000"},"encoding":{"x":{"datum":-0.22466,"type":"quantitative","scale":{"domain":[-1.24757,2.15035],"nice":false,"zero":false},"axis":null},"y":{"datum":-0.776,"type":"quantitative","scale":{"domain":[-24.069,2.431],"nice":false,"zero":false},"axis":null}}},
{"data":{"values":[{}]},"mark":{"type":"text","text":"(","font":"Liberation Serif","fontSize":76,"align":"left","baseline":"alphabetic","fill":"#000000"},"encoding":{"x":{"datum":0,"type":"quantitative","scale":{"domain":[0,700],"nice":false,"zero":false},"axis":null},"y":{"datum":-57,"type":"quantitative","scale":{"domain":[0,700],"nice":false,"zero":false},"axis":null}}},
{"data":{"values":[{}]},"mark":{"type":"text","text":"b","font":"Liberation Serif","fontWeight":"bold","fontSize":76,"align":"left","baseline":"alphabetic","fill":"#000000"},"encoding":{"x":{"datum":10.5,"type":"quantitative","scale":{"domain":[0,700],"nice":false,"zero":false},"axis":null},"y":{"datum":-57,"type":"quantitative","scale":{"domain":[0,700],"nice":false,"zero":false},"axis":null}}},
{"data":{"values":[{}]},"mark":{"type":"text","text":")","font":"Liberation Serif","fontSize":76,"align":"left","baseline":"alphabetic","fill":"#000000"},"encoding":{"x":{"datum":29.3,"type":"quantitative","scale":{"domain":[0,700],"nice":false,"zero":false},"axis":null},"y":{"datum":-57,"type":"quantitative","scale":{"domain":[0,700],"nice":false,"zero":false},"axis":null}}},
{"data":{"values":[{}]},"mark":{"type":"text","text":"t","font":"Liberation Serif","fontStyle":"italic","fontSize":76,"align":"left","baseline":"alphabetic","fill":"#000000"},"encoding":{"x":{"datum":50,"type":"quantitative","scale":{"domain":[0,700],"nice":false,"zero":false},"axis":null},"y":{"datum":-57,"type":"quantitative","scale":{"domain":[0,700],"nice":false,"zero":false},"axis":null}}},
{"data":{"values":[{}]},"mark":{"type":"text","text":"=","font":"Liberation Serif","fontSize":86,"align":"center","baseline":"alphabetic","fill":"#000000"},"encoding":{"x":{"datum":84.6,"type":"quantitative","scale":{"domain":[0,700],"nice":false,"zero":false},"axis":null},"y":{"datum":-57,"type":"quantitative","scale":{"domain":[0,700],"nice":false,"zero":false},"axis":null}}},
{"data":{"values":[{}]},"mark":{"type":"text","text":"0.4 ms","font":"Liberation Serif","fontSize":76,"align":"left","baseline":"alphabetic","fill":"#000000"},"encoding":{"x":{"datum":108.2,"type":"quantitative","scale":{"domain":[0,700],"nice":false,"zero":false},"axis":null},"y":{"datum":-57,"type":"quantitative","scale":{"domain":[0,700],"nice":false,"zero":false},"axis":null}}}
]},
{"width":1538,"height":1537,"resolve":{"scale":{"x":"independent","y":"independent"}},"layer":[
{"data":{"name":"surfC"},"mark":{"type":"area","interpolate":"monotone"},"encoding":{"x":{"field":"x","type":"quantitative","scale":{"domain":[0,700],"nice":false,"zero":false},"axis":null},"y":{"field":"top","type":"quantitative","scale":{"domain":[0,700],"nice":false,"zero":false},"axis":null},"y2":{"datum":0},"color":{"datum":0.72,"type":"quantitative","legend":null,"scale":{"type":"threshold","domain":[0.05,0.1,0.15,0.2,0.25,0.3,0.35,0.4,0.45,0.5,0.55,0.6,0.65,0.7,0.75,0.8,0.85,0.9,0.95],"range":["#0000FF","#0040FF","#0066FF","#00A0FF","#00D4FF","#00FFF0","#00FFC8","#00F890","#00F064","#00FF28","#18FF00","#50FF00","#8CFF00","#C4FF00","#F0FF00","#FFD500","#FFA000","#FF6600","#FF3300","#FF0000"]}}}},
{"data":{"name":"surfC"},"mark":{"type":"area","interpolate":"monotone"},"encoding":{"x":{"field":"x","type":"quantitative","scale":{"domain":[0,700],"nice":false,"zero":false},"axis":null},"y":{"field":"g","type":"quantitative","scale":{"domain":[0,700],"nice":false,"zero":false},"axis":null},"y2":{"datum":0},"color":{"datum":0.47,"type":"quantitative","legend":null,"scale":{"type":"threshold","domain":[0.05,0.1,0.15,0.2,0.25,0.3,0.35,0.4,0.45,0.5,0.55,0.6,0.65,0.7,0.75,0.8,0.85,0.9,0.95],"range":["#0000FF","#0040FF","#0066FF","#00A0FF","#00D4FF","#00FFF0","#00FFC8","#00F890","#00F064","#00FF28","#18FF00","#50FF00","#8CFF00","#C4FF00","#F0FF00","#FFD500","#FFA000","#FF6600","#FF3300","#FF0000"]}}}},
{"data":{"name":"surfC"},"mark":{"type":"area","interpolate":"monotone"},"encoding":{"x":{"field":"x","type":"quantitative","scale":{"domain":[0,700],"nice":false,"zero":false},"axis":null},"y":{"field":"c","type":"quantitative","scale":{"domain":[0,700],"nice":false,"zero":false},"axis":null},"y2":{"datum":0},"color":{"datum":0.22,"type":"quantitative","legend":null,"scale":{"type":"threshold","domain":[0.05,0.1,0.15,0.2,0.25,0.3,0.35,0.4,0.45,0.5,0.55,0.6,0.65,0.7,0.75,0.8,0.85,0.9,0.95],"range":["#0000FF","#0040FF","#0066FF","#00A0FF","#00D4FF","#00FFF0","#00FFC8","#00F890","#00F064","#00FF28","#18FF00","#50FF00","#8CFF00","#C4FF00","#F0FF00","#FFD500","#FFA000","#FF6600","#FF3300","#FF0000"]}}}},
{"data":{"name":"surfC"},"mark":{"type":"area","interpolate":"monotone"},"encoding":{"x":{"field":"x","type":"quantitative","scale":{"domain":[0,700],"nice":false,"zero":false},"axis":null},"y":{"field":"bot","type":"quantitative","scale":{"domain":[0,700],"nice":false,"zero":false},"axis":null},"y2":{"datum":0},"color":{"datum":0,"type":"quantitative","legend":null,"scale":{"type":"threshold","domain":[0.05,0.1,0.15,0.2,0.25,0.3,0.35,0.4,0.45,0.5,0.55,0.6,0.65,0.7,0.75,0.8,0.85,0.9,0.95],"range":["#0000FF","#0040FF","#0066FF","#00A0FF","#00D4FF","#00FFF0","#00FFC8","#00F890","#00F064","#00FF28","#18FF00","#50FF00","#8CFF00","#C4FF00","#F0FF00","#FFD500","#FFA000","#FF6600","#FF3300","#FF0000"]}}}},
{"data":{"name":"surfC"},"mark":{"type":"line","interpolate":"monotone","strokeWidth":1.5},"encoding":{"x":{"field":"x","type":"quantitative","scale":{"domain":[0,700],"nice":false,"zero":false},"axis":null},"y":{"field":"top","type":"quantitative","scale":{"domain":[0,700],"nice":false,"zero":false},"axis":null},"color":{"datum":0.82,"type":"quantitative","legend":null,"scale":{"type":"threshold","domain":[0.05,0.1,0.15,0.2,0.25,0.3,0.35,0.4,0.45,0.5,0.55,0.6,0.65,0.7,0.75,0.8,0.85,0.9,0.95],"range":["#0000FF","#0040FF","#0066FF","#00A0FF","#00D4FF","#00FFF0","#00FFC8","#00F890","#00F064","#00FF28","#18FF00","#50FF00","#8CFF00","#C4FF00","#F0FF00","#FFD500","#FFA000","#FF6600","#FF3300","#FF0000"]}}}},
{"data":{"name":"bubC"},"mark":{"type":"line","interpolate":"cardinal-closed","strokeWidth":7},"encoding":{"x":{"field":"x","type":"quantitative","scale":{"domain":[0,700],"nice":false,"zero":false},"axis":null},"y":{"field":"y","type":"quantitative","scale":{"domain":[0,700],"nice":false,"zero":false},"axis":null},"order":{"field":"i"},"color":{"datum":0.22,"type":"quantitative","legend":null,"scale":{"type":"threshold","domain":[0.05,0.1,0.15,0.2,0.25,0.3,0.35,0.4,0.45,0.5,0.55,0.6,0.65,0.7,0.75,0.8,0.85,0.9,0.95],"range":["#0000FF","#0040FF","#0066FF","#00A0FF","#00D4FF","#00FFF0","#00FFC8","#00F890","#00F064","#00FF28","#18FF00","#50FF00","#8CFF00","#C4FF00","#F0FF00","#FFD500","#FFA000","#FF6600","#FF3300","#FF0000"]}}}},
{"data":{"name":"bfC"},"mark":{"type":"area","orient":"horizontal","interpolate":"monotone"},"encoding":{"y":{"field":"y","type":"quantitative","scale":{"domain":[0,700],"nice":false,"zero":false},"axis":null},"x":{"field":"xl","type":"quantitative","scale":{"domain":[0,700],"nice":false,"zero":false},"axis":null},"x2":{"field":"xr"},"color":{"datum":1,"type":"quantitative","legend":null,"scale":{"type":"threshold","domain":[0.05,0.1,0.15,0.2,0.25,0.3,0.35,0.4,0.45,0.5,0.55,0.6,0.65,0.7,0.75,0.8,0.85,0.9,0.95],"range":["#0000FF","#0040FF","#0066FF","#00A0FF","#00D4FF","#00FFF0","#00FFC8","#00F890","#00F064","#00FF28","#18FF00","#50FF00","#8CFF00","#C4FF00","#F0FF00","#FFD500","#FFA000","#FF6600","#FF3300","#FF0000"]}}}},
{"data":{"name":"bubC"},"mark":{"type":"line","interpolate":"cardinal-closed","strokeWidth":3.5},"encoding":{"x":{"field":"x","type":"quantitative","scale":{"domain":[0,700],"nice":false,"zero":false},"axis":null},"y":{"field":"y","type":"quantitative","scale":{"domain":[0,700],"nice":false,"zero":false},"axis":null},"order":{"field":"i"},"color":{"datum":0.52,"type":"quantitative","legend":null,"scale":{"type":"threshold","domain":[0.05,0.1,0.15,0.2,0.25,0.3,0.35,0.4,0.45,0.5,0.55,0.6,0.65,0.7,0.75,0.8,0.85,0.9,0.95],"range":["#0000FF","#0040FF","#0066FF","#00A0FF","#00D4FF","#00FFF0","#00FFC8","#00F890","#00F064","#00FF28","#18FF00","#50FF00","#8CFF00","#C4FF00","#F0FF00","#FFD500","#FFA000","#FF6600","#FF3300","#FF0000"]}}}},
{"data":{"values":[{}]},"mark":{"type":"rect","fill":"#FFFFFF"},"encoding":{"x":{"datum":-0.31303,"type":"quantitative","scale":{"domain":[-1.24757,2.15035],"nice":false,"zero":false},"axis":null},"x2":{"datum":1.1186},"y":{"datum":1.1724,"type":"quantitative","scale":{"domain":[-24.069,2.431],"nice":false,"zero":false},"axis":null},"y2":{"datum":-0.9656}}},
{"data":{"name":"cbar"},"mark":{"type":"rect"},"encoding":{"x":{"field":"lo","type":"quantitative","scale":{"domain":[-1.24757,2.15035],"nice":false,"zero":false},"axis":null},"x2":{"field":"hi"},"y":{"datum":0,"type":"quantitative","scale":{"domain":[-24.069,2.431],"nice":false,"zero":false},"axis":null},"y2":{"datum":1},"color":{"field":"v","type":"quantitative","legend":null,"scale":{"type":"threshold","domain":[0.05,0.1,0.15,0.2,0.25,0.3,0.35,0.4,0.45,0.5,0.55,0.6,0.65,0.7,0.75,0.8,0.85,0.9,0.95],"range":["#0000FF","#0040FF","#0066FF","#00A0FF","#00D4FF","#00FFF0","#00FFC8","#00F890","#00F064","#00FF28","#18FF00","#50FF00","#8CFF00","#C4FF00","#F0FF00","#FFD500","#FFA000","#FF6600","#FF3300","#FF0000"]}}}},
{"data":{"name":"clines"},"mark":{"type":"rule","stroke":"#000000","strokeWidth":1.5},"encoding":{"x":{"field":"v","type":"quantitative","scale":{"domain":[-1.24757,2.15035],"nice":false,"zero":false},"axis":null},"y":{"datum":0,"type":"quantitative","scale":{"domain":[-24.069,2.431],"nice":false,"zero":false},"axis":null},"y2":{"datum":1}}},
{"data":{"values":[{}]},"mark":{"type":"rect","filled":false,"stroke":"#000000","strokeWidth":1.5},"encoding":{"x":{"datum":0.025,"type":"quantitative","scale":{"domain":[-1.24757,2.15035],"nice":false,"zero":false},"axis":null},"x2":{"datum":0.975},"y":{"datum":0,"type":"quantitative","scale":{"domain":[-24.069,2.431],"nice":false,"zero":false},"axis":null},"y2":{"datum":1}}},
{"data":{"name":"cticks"},"mark":{"type":"text","font":"Liberation Sans","fontSize":37,"align":"center","baseline":"alphabetic","fill":"#000000"},"encoding":{"x":{"field":"v","type":"quantitative","scale":{"domain":[-1.24757,2.15035],"nice":false,"zero":false},"axis":null},"y":{"datum":-0.776,"type":"quantitative","scale":{"domain":[-24.069,2.431],"nice":false,"zero":false},"axis":null},"text":{"field":"label"}}},
{"data":{"values":[{}]},"mark":{"type":"text","text":"V.F","font":"Liberation Sans","fontSize":37,"align":"left","baseline":"alphabetic","fill":"#000000"},"encoding":{"x":{"datum":-0.22466,"type":"quantitative","scale":{"domain":[-1.24757,2.15035],"nice":false,"zero":false},"axis":null},"y":{"datum":-0.776,"type":"quantitative","scale":{"domain":[-24.069,2.431],"nice":false,"zero":false},"axis":null}}},
{"data":{"values":[{}]},"mark":{"type":"text","text":"(","font":"Liberation Serif","fontSize":76,"align":"left","baseline":"alphabetic","fill":"#000000"},"encoding":{"x":{"datum":0,"type":"quantitative","scale":{"domain":[0,700],"nice":false,"zero":false},"axis":null},"y":{"datum":-57,"type":"quantitative","scale":{"domain":[0,700],"nice":false,"zero":false},"axis":null}}},
{"data":{"values":[{}]},"mark":{"type":"text","text":"c","font":"Liberation Serif","fontWeight":"bold","fontSize":76,"align":"left","baseline":"alphabetic","fill":"#000000"},"encoding":{"x":{"datum":10.5,"type":"quantitative","scale":{"domain":[0,700],"nice":false,"zero":false},"axis":null},"y":{"datum":-57,"type":"quantitative","scale":{"domain":[0,700],"nice":false,"zero":false},"axis":null}}},
{"data":{"values":[{}]},"mark":{"type":"text","text":")","font":"Liberation Serif","fontSize":76,"align":"left","baseline":"alphabetic","fill":"#000000"},"encoding":{"x":{"datum":25.7,"type":"quantitative","scale":{"domain":[0,700],"nice":false,"zero":false},"axis":null},"y":{"datum":-57,"type":"quantitative","scale":{"domain":[0,700],"nice":false,"zero":false},"axis":null}}},
{"data":{"values":[{}]},"mark":{"type":"text","text":"t","font":"Liberation Serif","fontStyle":"italic","fontSize":76,"align":"left","baseline":"alphabetic","fill":"#000000"},"encoding":{"x":{"datum":46.4,"type":"quantitative","scale":{"domain":[0,700],"nice":false,"zero":false},"axis":null},"y":{"datum":-57,"type":"quantitative","scale":{"domain":[0,700],"nice":false,"zero":false},"axis":null}}},
{"data":{"values":[{}]},"mark":{"type":"text","text":"=","font":"Liberation Serif","fontSize":86,"align":"center","baseline":"alphabetic","fill":"#000000"},"encoding":{"x":{"datum":81,"type":"quantitative","scale":{"domain":[0,700],"nice":false,"zero":false},"axis":null},"y":{"datum":-57,"type":"quantitative","scale":{"domain":[0,700],"nice":false,"zero":false},"axis":null}}},
{"data":{"values":[{}]},"mark":{"type":"text","text":"0.8 ms","font":"Liberation Serif","fontSize":76,"align":"left","baseline":"alphabetic","fill":"#000000"},"encoding":{"x":{"datum":104.6,"type":"quantitative","scale":{"domain":[0,700],"nice":false,"zero":false},"axis":null},"y":{"datum":-57,"type":"quantitative","scale":{"domain":[0,700],"nice":false,"zero":false},"axis":null}}}
]},
{"width":1538,"height":1537,"resolve":{"scale":{"x":"independent","y":"independent"}},"layer":[
{"data":{"name":"surfD"},"mark":{"type":"area","interpolate":"monotone"},"encoding":{"x":{"field":"x","type":"quantitative","scale":{"domain":[0,700],"nice":false,"zero":false},"axis":null},"y":{"field":"top","type":"quantitative","scale":{"domain":[0,700],"nice":false,"zero":false},"axis":null},"y2":{"datum":0},"color":{"datum":0.72,"type":"quantitative","legend":null,"scale":{"type":"threshold","domain":[0.05,0.1,0.15,0.2,0.25,0.3,0.35,0.4,0.45,0.5,0.55,0.6,0.65,0.7,0.75,0.8,0.85,0.9,0.95],"range":["#0000FF","#0040FF","#0066FF","#00A0FF","#00D4FF","#00FFF0","#00FFC8","#00F890","#00F064","#00FF28","#18FF00","#50FF00","#8CFF00","#C4FF00","#F0FF00","#FFD500","#FFA000","#FF6600","#FF3300","#FF0000"]}}}},
{"data":{"name":"surfD"},"mark":{"type":"area","interpolate":"monotone"},"encoding":{"x":{"field":"x","type":"quantitative","scale":{"domain":[0,700],"nice":false,"zero":false},"axis":null},"y":{"field":"g","type":"quantitative","scale":{"domain":[0,700],"nice":false,"zero":false},"axis":null},"y2":{"datum":0},"color":{"datum":0.47,"type":"quantitative","legend":null,"scale":{"type":"threshold","domain":[0.05,0.1,0.15,0.2,0.25,0.3,0.35,0.4,0.45,0.5,0.55,0.6,0.65,0.7,0.75,0.8,0.85,0.9,0.95],"range":["#0000FF","#0040FF","#0066FF","#00A0FF","#00D4FF","#00FFF0","#00FFC8","#00F890","#00F064","#00FF28","#18FF00","#50FF00","#8CFF00","#C4FF00","#F0FF00","#FFD500","#FFA000","#FF6600","#FF3300","#FF0000"]}}}},
{"data":{"name":"surfD"},"mark":{"type":"area","interpolate":"monotone"},"encoding":{"x":{"field":"x","type":"quantitative","scale":{"domain":[0,700],"nice":false,"zero":false},"axis":null},"y":{"field":"c","type":"quantitative","scale":{"domain":[0,700],"nice":false,"zero":false},"axis":null},"y2":{"datum":0},"color":{"datum":0.22,"type":"quantitative","legend":null,"scale":{"type":"threshold","domain":[0.05,0.1,0.15,0.2,0.25,0.3,0.35,0.4,0.45,0.5,0.55,0.6,0.65,0.7,0.75,0.8,0.85,0.9,0.95],"range":["#0000FF","#0040FF","#0066FF","#00A0FF","#00D4FF","#00FFF0","#00FFC8","#00F890","#00F064","#00FF28","#18FF00","#50FF00","#8CFF00","#C4FF00","#F0FF00","#FFD500","#FFA000","#FF6600","#FF3300","#FF0000"]}}}},
{"data":{"name":"surfD"},"mark":{"type":"area","interpolate":"monotone"},"encoding":{"x":{"field":"x","type":"quantitative","scale":{"domain":[0,700],"nice":false,"zero":false},"axis":null},"y":{"field":"bot","type":"quantitative","scale":{"domain":[0,700],"nice":false,"zero":false},"axis":null},"y2":{"datum":0},"color":{"datum":0,"type":"quantitative","legend":null,"scale":{"type":"threshold","domain":[0.05,0.1,0.15,0.2,0.25,0.3,0.35,0.4,0.45,0.5,0.55,0.6,0.65,0.7,0.75,0.8,0.85,0.9,0.95],"range":["#0000FF","#0040FF","#0066FF","#00A0FF","#00D4FF","#00FFF0","#00FFC8","#00F890","#00F064","#00FF28","#18FF00","#50FF00","#8CFF00","#C4FF00","#F0FF00","#FFD500","#FFA000","#FF6600","#FF3300","#FF0000"]}}}},
{"data":{"name":"surfD"},"mark":{"type":"line","interpolate":"monotone","strokeWidth":1.5},"encoding":{"x":{"field":"x","type":"quantitative","scale":{"domain":[0,700],"nice":false,"zero":false},"axis":null},"y":{"field":"top","type":"quantitative","scale":{"domain":[0,700],"nice":false,"zero":false},"axis":null},"color":{"datum":0.82,"type":"quantitative","legend":null,"scale":{"type":"threshold","domain":[0.05,0.1,0.15,0.2,0.25,0.3,0.35,0.4,0.45,0.5,0.55,0.6,0.65,0.7,0.75,0.8,0.85,0.9,0.95],"range":["#0000FF","#0040FF","#0066FF","#00A0FF","#00D4FF","#00FFF0","#00FFC8","#00F890","#00F064","#00FF28","#18FF00","#50FF00","#8CFF00","#C4FF00","#F0FF00","#FFD500","#FFA000","#FF6600","#FF3300","#FF0000"]}}}},
{"data":{"name":"bubD"},"mark":{"type":"line","interpolate":"cardinal-closed","strokeWidth":7},"encoding":{"x":{"field":"x","type":"quantitative","scale":{"domain":[0,700],"nice":false,"zero":false},"axis":null},"y":{"field":"y","type":"quantitative","scale":{"domain":[0,700],"nice":false,"zero":false},"axis":null},"order":{"field":"i"},"color":{"datum":0.22,"type":"quantitative","legend":null,"scale":{"type":"threshold","domain":[0.05,0.1,0.15,0.2,0.25,0.3,0.35,0.4,0.45,0.5,0.55,0.6,0.65,0.7,0.75,0.8,0.85,0.9,0.95],"range":["#0000FF","#0040FF","#0066FF","#00A0FF","#00D4FF","#00FFF0","#00FFC8","#00F890","#00F064","#00FF28","#18FF00","#50FF00","#8CFF00","#C4FF00","#F0FF00","#FFD500","#FFA000","#FF6600","#FF3300","#FF0000"]}}}},
{"data":{"name":"bfD"},"mark":{"type":"area","orient":"horizontal","interpolate":"monotone"},"encoding":{"y":{"field":"y","type":"quantitative","scale":{"domain":[0,700],"nice":false,"zero":false},"axis":null},"x":{"field":"xl","type":"quantitative","scale":{"domain":[0,700],"nice":false,"zero":false},"axis":null},"x2":{"field":"xr"},"color":{"datum":1,"type":"quantitative","legend":null,"scale":{"type":"threshold","domain":[0.05,0.1,0.15,0.2,0.25,0.3,0.35,0.4,0.45,0.5,0.55,0.6,0.65,0.7,0.75,0.8,0.85,0.9,0.95],"range":["#0000FF","#0040FF","#0066FF","#00A0FF","#00D4FF","#00FFF0","#00FFC8","#00F890","#00F064","#00FF28","#18FF00","#50FF00","#8CFF00","#C4FF00","#F0FF00","#FFD500","#FFA000","#FF6600","#FF3300","#FF0000"]}}}},
{"data":{"name":"bubD"},"mark":{"type":"line","interpolate":"cardinal-closed","strokeWidth":3.5},"encoding":{"x":{"field":"x","type":"quantitative","scale":{"domain":[0,700],"nice":false,"zero":false},"axis":null},"y":{"field":"y","type":"quantitative","scale":{"domain":[0,700],"nice":false,"zero":false},"axis":null},"order":{"field":"i"},"color":{"datum":0.52,"type":"quantitative","legend":null,"scale":{"type":"threshold","domain":[0.05,0.1,0.15,0.2,0.25,0.3,0.35,0.4,0.45,0.5,0.55,0.6,0.65,0.7,0.75,0.8,0.85,0.9,0.95],"range":["#0000FF","#0040FF","#0066FF","#00A0FF","#00D4FF","#00FFF0","#00FFC8","#00F890","#00F064","#00FF28","#18FF00","#50FF00","#8CFF00","#C4FF00","#F0FF00","#FFD500","#FFA000","#FF6600","#FF3300","#FF0000"]}}}},
{"data":{"values":[{}]},"mark":{"type":"rect","fill":"#FFFFFF"},"encoding":{"x":{"datum":-0.31303,"type":"quantitative","scale":{"domain":[-1.24757,2.15035],"nice":false,"zero":false},"axis":null},"x2":{"datum":1.1186},"y":{"datum":1.1724,"type":"quantitative","scale":{"domain":[-24.069,2.431],"nice":false,"zero":false},"axis":null},"y2":{"datum":-0.9656}}},
{"data":{"name":"cbar"},"mark":{"type":"rect"},"encoding":{"x":{"field":"lo","type":"quantitative","scale":{"domain":[-1.24757,2.15035],"nice":false,"zero":false},"axis":null},"x2":{"field":"hi"},"y":{"datum":0,"type":"quantitative","scale":{"domain":[-24.069,2.431],"nice":false,"zero":false},"axis":null},"y2":{"datum":1},"color":{"field":"v","type":"quantitative","legend":null,"scale":{"type":"threshold","domain":[0.05,0.1,0.15,0.2,0.25,0.3,0.35,0.4,0.45,0.5,0.55,0.6,0.65,0.7,0.75,0.8,0.85,0.9,0.95],"range":["#0000FF","#0040FF","#0066FF","#00A0FF","#00D4FF","#00FFF0","#00FFC8","#00F890","#00F064","#00FF28","#18FF00","#50FF00","#8CFF00","#C4FF00","#F0FF00","#FFD500","#FFA000","#FF6600","#FF3300","#FF0000"]}}}},
{"data":{"name":"clines"},"mark":{"type":"rule","stroke":"#000000","strokeWidth":1.5},"encoding":{"x":{"field":"v","type":"quantitative","scale":{"domain":[-1.24757,2.15035],"nice":false,"zero":false},"axis":null},"y":{"datum":0,"type":"quantitative","scale":{"domain":[-24.069,2.431],"nice":false,"zero":false},"axis":null},"y2":{"datum":1}}},
{"data":{"values":[{}]},"mark":{"type":"rect","filled":false,"stroke":"#000000","strokeWidth":1.5},"encoding":{"x":{"datum":0.025,"type":"quantitative","scale":{"domain":[-1.24757,2.15035],"nice":false,"zero":false},"axis":null},"x2":{"datum":0.975},"y":{"datum":0,"type":"quantitative","scale":{"domain":[-24.069,2.431],"nice":false,"zero":false},"axis":null},"y2":{"datum":1}}},
{"data":{"name":"cticks"},"mark":{"type":"text","font":"Liberation Sans","fontSize":37,"align":"center","baseline":"alphabetic","fill":"#000000"},"encoding":{"x":{"field":"v","type":"quantitative","scale":{"domain":[-1.24757,2.15035],"nice":false,"zero":false},"axis":null},"y":{"datum":-0.776,"type":"quantitative","scale":{"domain":[-24.069,2.431],"nice":false,"zero":false},"axis":null},"text":{"field":"label"}}},
{"data":{"values":[{}]},"mark":{"type":"text","text":"V.F","font":"Liberation Sans","fontSize":37,"align":"left","baseline":"alphabetic","fill":"#000000"},"encoding":{"x":{"datum":-0.22466,"type":"quantitative","scale":{"domain":[-1.24757,2.15035],"nice":false,"zero":false},"axis":null},"y":{"datum":-0.776,"type":"quantitative","scale":{"domain":[-24.069,2.431],"nice":false,"zero":false},"axis":null}}},
{"data":{"values":[{}]},"mark":{"type":"text","text":"(","font":"Liberation Serif","fontSize":76,"align":"left","baseline":"alphabetic","fill":"#000000"},"encoding":{"x":{"datum":0,"type":"quantitative","scale":{"domain":[0,700],"nice":false,"zero":false},"axis":null},"y":{"datum":-57,"type":"quantitative","scale":{"domain":[0,700],"nice":false,"zero":false},"axis":null}}},
{"data":{"values":[{}]},"mark":{"type":"text","text":"d","font":"Liberation Serif","fontWeight":"bold","fontSize":76,"align":"left","baseline":"alphabetic","fill":"#000000"},"encoding":{"x":{"datum":10.5,"type":"quantitative","scale":{"domain":[0,700],"nice":false,"zero":false},"axis":null},"y":{"datum":-57,"type":"quantitative","scale":{"domain":[0,700],"nice":false,"zero":false},"axis":null}}},
{"data":{"values":[{}]},"mark":{"type":"text","text":")","font":"Liberation Serif","fontSize":76,"align":"left","baseline":"alphabetic","fill":"#000000"},"encoding":{"x":{"datum":29.3,"type":"quantitative","scale":{"domain":[0,700],"nice":false,"zero":false},"axis":null},"y":{"datum":-57,"type":"quantitative","scale":{"domain":[0,700],"nice":false,"zero":false},"axis":null}}},
{"data":{"values":[{}]},"mark":{"type":"text","text":"t","font":"Liberation Serif","fontStyle":"italic","fontSize":76,"align":"left","baseline":"alphabetic","fill":"#000000"},"encoding":{"x":{"datum":50,"type":"quantitative","scale":{"domain":[0,700],"nice":false,"zero":false},"axis":null},"y":{"datum":-57,"type":"quantitative","scale":{"domain":[0,700],"nice":false,"zero":false},"axis":null}}},
{"data":{"values":[{}]},"mark":{"type":"text","text":"=","font":"Liberation Serif","fontSize":86,"align":"center","baseline":"alphabetic","fill":"#000000"},"encoding":{"x":{"datum":84.6,"type":"quantitative","scale":{"domain":[0,700],"nice":false,"zero":false},"axis":null},"y":{"datum":-57,"type":"quantitative","scale":{"domain":[0,700],"nice":false,"zero":false},"axis":null}}},
{"data":{"values":[{}]},"mark":{"type":"text","text":"1.2 ms","font":"Liberation Serif","fontSize":76,"align":"left","baseline":"alphabetic","fill":"#000000"},"encoding":{"x":{"datum":108.2,"type":"quantitative","scale":{"domain":[0,700],"nice":false,"zero":false},"axis":null},"y":{"datum":-57,"type":"quantitative","scale":{"domain":[0,700],"nice":false,"zero":false},"axis":null}}}
]}
]
}
